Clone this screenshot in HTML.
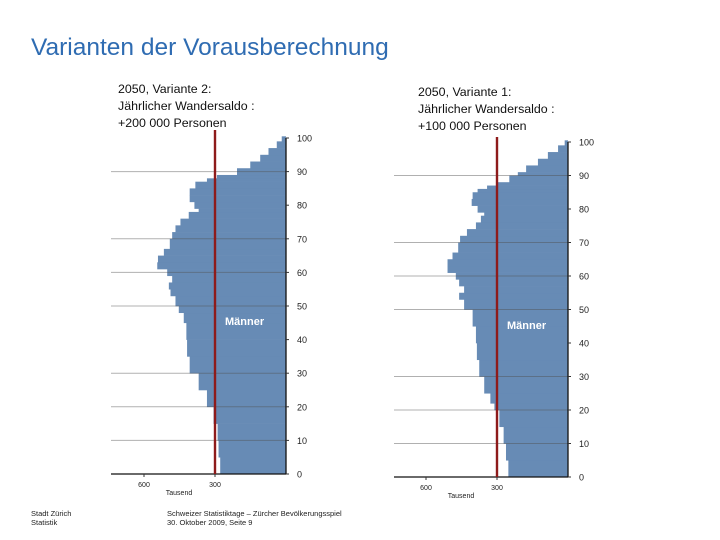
<!DOCTYPE html>
<html><head><meta charset="utf-8">
<style>
body{margin:0;background:#fff;}
#page{position:relative;width:720px;height:540px;overflow:hidden;font-family:"Liberation Sans",sans-serif;}
svg{position:absolute;left:0;top:0;}
</style></head>
<body>
<div id="page">
<svg id="svg" width="720" height="540">
<text x="31" y="55" font-size="24.5" fill="#2f6cb2">Varianten der Vorausberechnung</text>
<g font-size="12.4" fill="#111">
<text x="118" y="93">2050, Variante 2:</text>
<text x="118" y="110">Jährlicher Wandersaldo :</text>
<text x="118" y="127">+200 000 Personen</text>
</g>
<g font-size="12.4" fill="#111">
<text x="418" y="96">2050, Variante 1:</text>
<text x="418" y="113">Jährlicher Wandersaldo :</text>
<text x="418" y="130">+100 000 Personen</text>
</g>
<g font-size="7.5" fill="#222">
<text x="31" y="516">Stadt Zürich</text>
<text x="31" y="525">Statistik</text>
<text x="167" y="516">Schweizer Statistiktage –  Zürcher Bevölkerungsspiel</text>
<text x="167" y="525">30. Oktober 2009, Seite 9</text>
</g>
</svg>
</div>
<script>
// Variante 2 (left): age band starts and values (Tausend)
const agesV2 = [0,5,10,15,20,25,30,35,40,45,48,50,53,55,57,59,61,63,65,67,70,72,74,76,78,79,81,83,85,87,88,89,91,93,95,97,99];
const valuesV2 = [278,285,289,306,334,369,407,418,421,432,453,467,488,495,481,502,544,541,516,491,481,467,446,411,369,387,407,407,383,334,292,207,151,109,74,39,18];
// Variante 1 (right)
const agesV1 = [0,5,10,15,20,22,25,30,35,40,45,50,53,55,57,59,61,63,65,67,70,72,74,76,78,79,81,83,85,86,87,88,90,91,93,95,97,99];
const valuesV1 = [252,262,272,290,311,328,354,375,385,389,403,439,460,439,460,474,509,509,488,464,456,427,389,368,354,382,407,403,382,342,304,248,212,177,127,85,42,14];
const ageTicks = [0,10,20,30,40,50,60,70,80,90,100];
const gridAges = [10,20,30,50,60,70,90];
const xTicks = [600,300];
const refValue = 300;

const NS = 'http://www.w3.org/2000/svg';
const svg = document.getElementById('svg');
function mk(tag, attrs, parent){
  const e = document.createElementNS(NS, tag);
  for (const k in attrs) e.setAttribute(k, attrs[k]);
  (parent||svg).appendChild(e);
  return e;
}
function drawPyramid(cfg, ages, values, name){
  const g = mk('g', {});
  
  
  const xs = v => cfg.x0 - v * cfg.ppu;
  const ys = a => cfg.y0 - a * cfg.ppy;
  for (let i = 0; i < ages.length; i++) {
    const a0 = ages[i], a1 = i + 1 < ages.length ? ages[i+1] : 100.5;
    const r = mk('rect', {x: xs(values[i]), y: ys(a1), width: cfg.x0 - xs(values[i]), height: ys(a0) - ys(a1) + 0.3, fill: '#678bb5'}, g);
    
    
  }
  for (const a of gridAges) {
    const l = mk('line', {x1: cfg.gx, x2: cfg.x0, y1: ys(a), y2: ys(a), stroke: 'rgba(80,80,80,0.45)', 'stroke-width': 1}, g);
    
    
  }
  const ax = mk('line', {x1: cfg.gx, x2: cfg.x0, y1: cfg.y0, y2: cfg.y0, stroke: '#111', 'stroke-width': 1.3}, g);
  
  
  const ay = mk('line', {x1: cfg.x0, x2: cfg.x0, y1: ys(100), y2: cfg.y0, stroke: '#111', 'stroke-width': 1.3}, g);
  
  
  for (const a of ageTicks) {
    mk('line', {x1: cfg.x0, x2: cfg.x0 + 3, y1: ys(a), y2: ys(a), stroke: '#333'}, g);
    const t = mk('text', {x: cfg.x0 + 11, y: ys(a) + 3.5, 'font-size': 9, fill: '#222'}, g);
    t.textContent = a;
    
    
  }
  for (const v of xTicks) {
    mk('line', {x1: xs(v), x2: xs(v), y1: cfg.y0, y2: cfg.y0 + 3, stroke: '#333'}, g);
    const t = mk('text', {x: xs(v), y: cfg.y0 + 13, 'font-size': 7, 'text-anchor': 'middle', fill: '#222'}, g);
    t.textContent = v;
    
    
  }
  const tt = mk('text', {x: cfg.tx, y: cfg.y0 + 21, 'font-size': 7, 'text-anchor': 'middle', fill: '#222'}, g);
  tt.textContent = 'Tausend';
  
  
  const rl = mk('line', {x1: xs(refValue), x2: xs(refValue), y1: cfg.redTop, y2: cfg.y0, stroke: '#8e1b1b', 'stroke-width': 2.4}, g);
  
  
  const m = mk('text', {x: cfg.mx, y: cfg.my, 'font-size': 11, 'font-weight': 'bold', fill: '#fff'}, g);
  m.textContent = 'Männer';
  
  
}
drawPyramid({x0: 286, y0: 474, ppu: 71/300, ppy: 3.36, gx: 111, redTop: 130, mx: 225, my: 325, tx: 179}, agesV2, valuesV2, 'pyramid-variante-2');
drawPyramid({x0: 568, y0: 477, ppu: 71/300, ppy: 3.35, gx: 394, redTop: 137, mx: 507, my: 329, tx: 461}, agesV1, valuesV1, 'pyramid-variante-1');
</script>
</body></html>
